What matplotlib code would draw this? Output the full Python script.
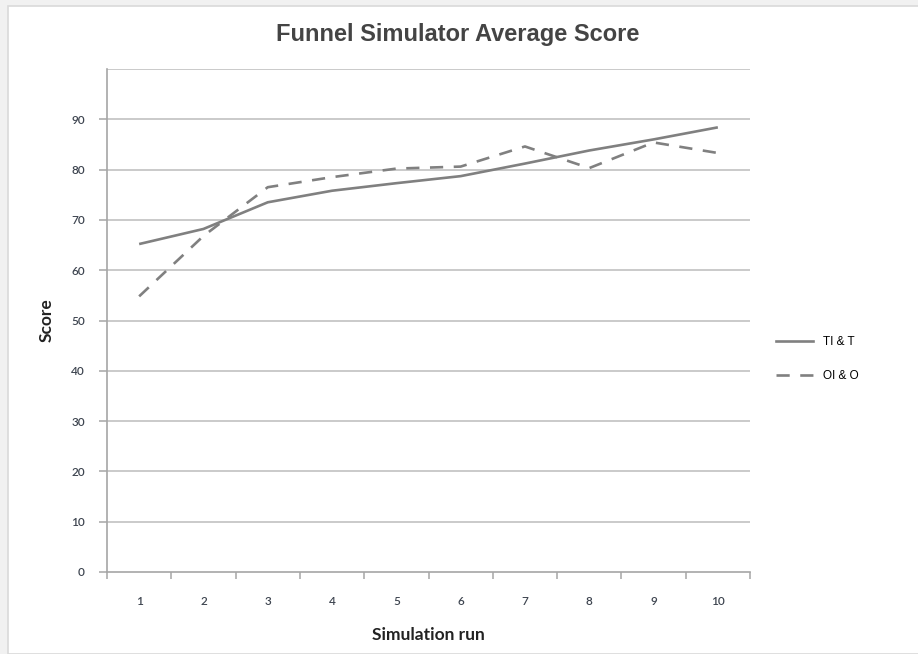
import matplotlib
matplotlib.use("Agg")
import matplotlib.pyplot as plt
from matplotlib.patches import Rectangle
from matplotlib.lines import Line2D

runs = [1, 2, 3, 4, 5, 6, 7, 8, 9, 10]
ti_t = [65.2, 68.2, 73.5, 75.8, 77.3, 78.7, 81.2, 83.8, 86.0, 88.4]
oi_o = [54.8, 66.8, 76.5, 78.5, 80.2, 80.6, 84.6, 80.3, 85.4, 83.3]
series_labels = ["TI & T", "OI & O"]
y_ticks = [0, 10, 20, 30, 40, 50, 60, 70, 80, 90]

W, H = 918, 654
fig = plt.figure(figsize=(W / 100, H / 100), dpi=100)
fig.patch.set_facecolor("white")

# outer panel frame
fig.patches.append(Rectangle((0, 0), 1, 1, transform=fig.transFigure,
                             facecolor="#f1f1f1", edgecolor="none", zorder=-3))
fig.patches.append(Rectangle((8 / W, 0), 1, 1 - 6 / H, transform=fig.transFigure,
                             facecolor="white", edgecolor="#d9d9d9", lw=1.2, zorder=-2))

x0, x1 = 107, 750
y_top, y_bot = 69, 572
ax = fig.add_axes([x0 / W, 1 - y_bot / H, (x1 - x0) / W, (y_bot - y_top) / H])
ax.set_facecolor("none")

line_col = "#808080"
ax.plot(runs, ti_t, color=line_col, lw=1.9, solid_capstyle="butt", zorder=3)
ax.plot(runs, oi_o, color=line_col, lw=1.9, dashes=(5, 4), zorder=3)

ax.set_xlim(0.5, 10.5)
ax.set_ylim(0, 100)

# horizontal gridlines
for v in y_ticks[1:] + [100]:
    ax.axhline(v, color="#c6c6c6", lw=1.3, zorder=1)

for s in ["top", "right"]:
    ax.spines[s].set_visible(False)
for s in ["left", "bottom"]:
    ax.spines[s].set_color("#a6a6a6")
    ax.spines[s].set_linewidth(1.2)

tick_font = dict(fontsize=8.5, color="#3e4550", family="Lato", fontweight="semibold")
ax.set_yticks(y_ticks)
ax.set_yticklabels([str(v) for v in y_ticks], **tick_font)
ax.tick_params(axis="y", length=6, width=1.1, color="#a6a6a6", pad=10)

ax.set_xticks(runs)
ax.set_xticklabels([str(r) for r in runs], **tick_font)
ax.set_xticks([r + 0.5 for r in range(0, 11)], minor=True)
ax.tick_params(axis="x", which="major", length=0, pad=17)
ax.tick_params(axis="x", which="minor", length=5, width=1.1, color="#a6a6a6")

ax.set_ylabel("Score", fontsize=12.5, fontweight="bold", family="Lato",
              color="#222222", labelpad=12)
ax.set_xlabel("Simulation run", fontsize=12.5, fontweight="bold", family="Lato",
              color="#222222", labelpad=15)

fig.text(458 / W, 1 - 35 / H, "Funnel Simulator Average Score", ha="center",
         va="center", fontsize=17, fontweight="bold", family="Liberation Sans",
         color="#444444")

handles = [Line2D([], [], color=line_col, lw=1.9),
           Line2D([], [], color=line_col, lw=1.9, dashes=(5, 4))]
fig.legend(handles, series_labels, loc="center left",
           bbox_to_anchor=(765 / W, 1 - 359 / H), frameon=False,
           prop={"family": "Liberation Sans", "size": 8.5},
           handlelength=3.2, labelspacing=1.9, handletextpad=0.8)

fig.savefig("out.png", dpi=100)
